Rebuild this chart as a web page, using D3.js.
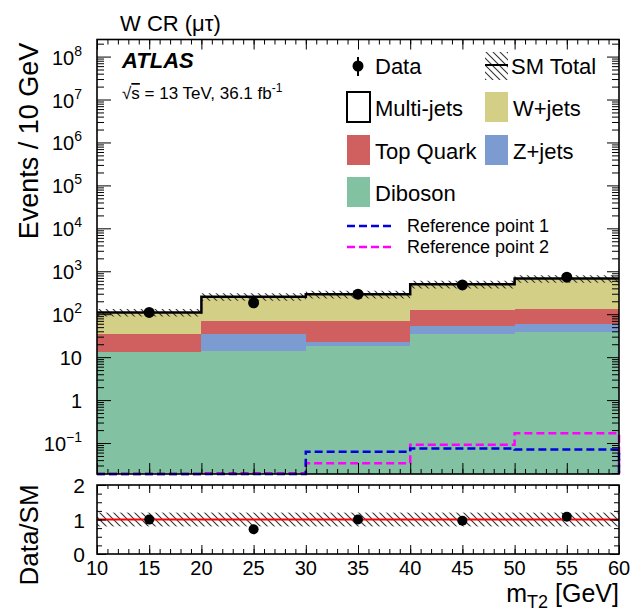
<!DOCTYPE html>
<html lang="en">
<head>
<meta charset="utf-8">
<title>W CR mT2</title>
<script src="https://cdn.jsdelivr.net/npm/d3@7"></script>
<style>
  body { margin: 0; background: #fff; }
  text { font-family: "Liberation Sans", Arial, Helvetica, sans-serif; fill: #000; }
  .axis path.domain { display: none; }
  .axis line { stroke: #000; stroke-width: 1; }
</style>
</head>
<body>
<script>

// ---- data ----
var binEdges = [10, 20, 30, 40, 50, 60];
var binCenters = [15, 25, 35, 45, 55];
var diboson = [13.1, 13.8, 18, 34, 38];
var zjets = [0.4, 21, 4, 18, 20];
var topQuark = [21.5, 34, 46, 72, 77];
var wjets = [75, 187, 223, 374, 540];
var multijets = [0.3, 0.5, 0.5, 1, 1];
var dataCounts = [110, 184, 292, 480, 730];
var sysUnc = [0.2, 0.2, 0.2, 0.2, 0.2];
var refPoint1 = [0.001, 0.001, 0.063, 0.075, 0.071];
var refPoint2 = [0.001, 0.0197, 0.034, 0.091, 0.168];
var yPowers = [-1, 0, 1, 2, 3, 4, 5, 6, 7, 8];
var ratioLabels = [0, 1, 2];
var xLabels = [10, 15, 20, 25, 30, 35, 40, 45, 50, 55, 60];

var w = 635, h = 613;
var svg = d3.select("body").append("svg").attr("width", w).attr("height", h);

var defs = svg.append("defs");
defs.append("pattern")
  .attr("id", "hatch")
  .attr("patternUnits", "userSpaceOnUse")
  .attr("width", 7).attr("height", 7)
  .append("path")
  .attr("d", "M-1,6 l2,2 M0,0 l7,7 M6,-1 l2,2")
  .attr("stroke", "#333").attr("stroke-width", 1.1);

var xScale = d3.scaleLinear().domain([10, 60]).range([97, 619]);
var yScale = d3.scaleLog().domain([0.019, 2.5e8]).range([474, 39.5]).clamp(true);
var rScale = d3.scaleLinear().domain([0, 2]).range([554, 485]).clamp(true);

// stack
var rows = binCenters.map(function(c, i) {
  return { i: i, Diboson: diboson[i], Zjets: zjets[i], Top: topQuark[i], Wjets: wjets[i], Multi: multijets[i] };
});
var keys = ["Diboson", "Zjets", "Top", "Wjets", "Multi"];
var colors = { Diboson: "#83c1a3", Zjets: "#7c9bd1", Top: "#d05f5f", Wjets: "#d4cf87", Multi: "#ffffff" };
var stacked = d3.stack().keys(keys)(rows);
var total = rows.map(function(r) { return keys.reduce(function(s, k) { return s + r[k]; }, 0); });

var main = svg.append("g");
stacked.forEach(function(layer) {
  main.append("g").selectAll("rect")
    .data(layer)
    .enter().append("rect")
    .attr("x", function(d, i) { return xScale(binEdges[i]); })
    .attr("width", function(d, i) { return xScale(binEdges[i + 1]) - xScale(binEdges[i]); })
    .attr("y", function(d) { return yScale(d[1]); })
    .attr("height", function(d) { return yScale(d[0]) - yScale(d[1]); })
    .attr("fill", colors[layer.key])
    .attr("shape-rendering", "crispEdges");
});

// step helpers
function stepPoints(vals, dropEnd) {
  var pts = binEdges.map(function(e, i) { return [e, vals[Math.min(i, vals.length - 1)]]; });
  if (dropEnd) pts.push([60, 1e-6]);
  return pts;
}
var stepLine = d3.line()
  .x(function(d) { return xScale(d[0]); })
  .y(function(d) { return yScale(d[1]); })
  .curve(d3.curveStepAfter);

// reference points
main.append("path").datum(stepPoints(refPoint2, true))
  .attr("d", stepLine).attr("fill", "none")
  .attr("stroke", "#ff00ff").attr("stroke-width", 2.5).attr("stroke-dasharray", "8,4");
main.append("path").datum(stepPoints(refPoint1, true))
  .attr("d", stepLine).attr("fill", "none")
  .attr("stroke", "#0000e0").attr("stroke-width", 2.5).attr("stroke-dasharray", "8,4");

// SM total band and line
var band = d3.area()
  .x(function(d) { return xScale(d[0]); })
  .y0(function(d) { return yScale(d[1] * (1 - d[2])); })
  .y1(function(d) { return yScale(d[1] * (1 + d[2])); })
  .curve(d3.curveStepAfter);
var bandPts = binEdges.map(function(e, i) { var j = Math.min(i, 4); return [e, total[j], sysUnc[j]]; });
main.append("path").datum(bandPts).attr("d", band).attr("fill", "url(#hatch)");
main.append("path").datum(stepPoints(total, false))
  .attr("d", stepLine).attr("fill", "none").attr("stroke", "#000").attr("stroke-width", 2.5);

// data
main.selectAll(".err").data(dataCounts).enter().append("line")
  .attr("x1", function(d, i) { return xScale(binCenters[i]); })
  .attr("x2", function(d, i) { return xScale(binCenters[i]); })
  .attr("y1", function(d) { return yScale(d + Math.sqrt(d)); })
  .attr("y2", function(d) { return yScale(d - Math.sqrt(d)); })
  .attr("stroke", "#000").attr("stroke-width", 2);
main.selectAll(".pt").data(dataCounts).enter().append("circle")
  .attr("cx", function(d, i) { return xScale(binCenters[i]); })
  .attr("cy", function(d) { return yScale(d); })
  .attr("r", 5.5).attr("fill", "#000");

// ---- ratio panel ----
var ratio = svg.append("g");
ratio.append("rect")
  .attr("x", xScale(10)).attr("width", xScale(60) - xScale(10))
  .attr("y", rScale(1 + sysUnc[0])).attr("height", rScale(1 - sysUnc[0]) - rScale(1 + sysUnc[0]))
  .attr("fill", "url(#hatch)");
ratio.append("line")
  .attr("x1", xScale(10)).attr("x2", xScale(60))
  .attr("y1", rScale(1)).attr("y2", rScale(1))
  .attr("stroke", "#ff0000").attr("stroke-width", 2);
ratio.selectAll(".rerr").data(dataCounts).enter().append("line")
  .attr("x1", function(d, i) { return xScale(binCenters[i]); })
  .attr("x2", function(d, i) { return xScale(binCenters[i]); })
  .attr("y1", function(d, i) { return rScale((d + Math.sqrt(d)) / total[i]); })
  .attr("y2", function(d, i) { return rScale((d - Math.sqrt(d)) / total[i]); })
  .attr("stroke", "#000").attr("stroke-width", 2);
ratio.selectAll(".rpt").data(dataCounts).enter().append("circle")
  .attr("cx", function(d, i) { return xScale(binCenters[i]); })
  .attr("cy", function(d, i) { return rScale(d / total[i]); })
  .attr("r", 5).attr("fill", "#000");

// ---- axes (ROOT style inward ticks) ----
var xMajor = d3.range(10, 60.01, 5);
var xMinor = d3.range(10, 60.01, 1);
var logMinor = [];
for (var k = -2; k <= 8; k++) {
  for (var m = 2; m <= 9; m++) {
    var v = m * Math.pow(10, k);
    if (v >= 0.019 && v <= 2.5e8) logMinor.push(v);
  }
}
var logMajor = yPowers.map(function(p) { return Math.pow(10, p); });

function addAxis(axis, tx, ty) {
  svg.append("g").attr("class", "axis")
    .attr("transform", "translate(" + tx + "," + ty + ")")
    .call(axis)
    .selectAll("text").remove();
}
// main panel
addAxis(d3.axisBottom(xScale).tickValues(xMinor).tickSize(-5), 0, 474);
addAxis(d3.axisBottom(xScale).tickValues(xMajor).tickSize(-11), 0, 474);
addAxis(d3.axisTop(xScale).tickValues(xMinor).tickSize(-5), 0, 39.5);
addAxis(d3.axisTop(xScale).tickValues(xMajor).tickSize(-10), 0, 39.5);
addAxis(d3.axisLeft(yScale).tickValues(logMinor).tickSize(-7), 97, 0);
addAxis(d3.axisLeft(yScale).tickValues(logMajor).tickSize(-14), 97, 0);
addAxis(d3.axisRight(yScale).tickValues(logMinor).tickSize(-7), 619, 0);
addAxis(d3.axisRight(yScale).tickValues(logMajor).tickSize(-12), 619, 0);
// ratio panel
addAxis(d3.axisBottom(xScale).tickValues(xMinor).tickSize(-5), 0, 554);
addAxis(d3.axisBottom(xScale).tickValues(xMajor).tickSize(-9), 0, 554);
addAxis(d3.axisTop(xScale).tickValues(xMinor).tickSize(-4), 0, 485);
addAxis(d3.axisTop(xScale).tickValues(xMajor).tickSize(-8), 0, 485);
addAxis(d3.axisLeft(rScale).tickValues(d3.range(0, 2.01, 0.25)).tickSize(-5), 97, 0);
addAxis(d3.axisLeft(rScale).tickValues(ratioLabels).tickSize(-9), 97, 0);
addAxis(d3.axisRight(rScale).tickValues(d3.range(0, 2.01, 0.25)).tickSize(-5), 619, 0);
addAxis(d3.axisRight(rScale).tickValues(ratioLabels).tickSize(-9), 619, 0);

// frames
svg.append("rect").attr("x", 97).attr("y", 39.5).attr("width", 522).attr("height", 434.5)
  .attr("fill", "none").attr("stroke", "#000").attr("stroke-width", 1.6);
svg.append("rect").attr("x", 97).attr("y", 485).attr("width", 522).attr("height", 69)
  .attr("fill", "none").attr("stroke", "#000").attr("stroke-width", 1.6);

// tick labels
var yl = svg.append("g").attr("font-size", 20).attr("text-anchor", "end");
yPowers.forEach(function(p) {
  var t = yl.append("text").attr("x", 82).attr("y", yScale(Math.pow(10, p)) + 8);
  if (p === 0) t.text("1");
  else if (p === 1) t.text("10");
  else {
    t.append("tspan").text("10");
    t.append("tspan").attr("font-size", 14).attr("dy", -9).text(p < 0 ? "\u2212" + (-p) : p);
  }
});
svg.append("g").attr("font-size", 21).attr("text-anchor", "end")
  .selectAll("text").data(ratioLabels).enter().append("text")
  .attr("x", 85).attr("y", function(d) { return rScale(d) + 8; })
  .text(function(d) { return d; });
svg.append("g").attr("font-size", 20).attr("text-anchor", "middle")
  .selectAll("text").data(xLabels).enter().append("text")
  .attr("x", function(d) { return xScale(d); }).attr("y", 575)
  .text(function(d) { return d; });

// axis titles
svg.append("text").attr("transform", "translate(38,141) rotate(-90)")
  .attr("text-anchor", "middle").attr("font-size", 27).text("Events / 10 GeV");
svg.append("text").attr("transform", "translate(38,535) rotate(-90)")
  .attr("text-anchor", "middle").attr("font-size", 26).text("Data/SM");
var xt = svg.append("text").attr("x", 619).attr("y", 602).attr("text-anchor", "end").attr("font-size", 25);
xt.append("tspan").text("m");
xt.append("tspan").attr("font-size", 18).attr("dy", 6).text("T2");
xt.append("tspan").attr("dy", -6).text(" [GeV]");

// labels
svg.append("text").attr("x", 120).attr("y", 31).attr("font-size", 22).text("W CR (\u03bc\u03c4)");
svg.append("text").attr("x", 122).attr("y", 68).attr("font-size", 22)
  .attr("font-weight", "bold").attr("font-style", "italic").text("ATLAS");
var lumi = svg.append("text").attr("x", 122).attr("y", 99).attr("font-size", 17);
lumi.append("tspan").text("\u221A");
lumi.append("tspan").attr("text-decoration", "overline").text("s");
lumi.append("tspan").text(" = 13 TeV, 36.1 fb");
lumi.append("tspan").attr("font-size", 12).attr("dy", -7).text("-1");

// legend
var lg = svg.append("g").attr("font-size", 22);
lg.append("line").attr("x1", 358).attr("x2", 358).attr("y1", 57).attr("y2", 76).attr("stroke", "#000").attr("stroke-width", 2);
lg.append("circle").attr("cx", 358).attr("cy", 66).attr("r", 5.5).attr("fill", "#000");
lg.append("text").attr("x", 375).attr("y", 74).text("Data");
lg.append("rect").attr("x", 485).attr("y", 52).attr("width", 23).attr("height", 28).attr("fill", "url(#hatch)");
lg.append("line").attr("x1", 485).attr("x2", 508).attr("y1", 65).attr("y2", 65).attr("stroke", "#000").attr("stroke-width", 2);
lg.append("text").attr("x", 511).attr("y", 74).text("SM Total");

var boxes = [
  { key: "Multi", label: "Multi-jets", x: 347, y: 92 },
  { key: "Wjets", label: "W+jets", x: 485, y: 92 },
  { key: "Top", label: "Top Quark", x: 347, y: 135 },
  { key: "Zjets", label: "Z+jets", x: 485, y: 135 },
  { key: "Diboson", label: "Diboson", x: 347, y: 177 }
];
boxes.forEach(function(b) {
  lg.append("rect").attr("x", b.x).attr("y", b.y).attr("width", 23).attr("height", 30)
    .attr("fill", colors[b.key])
    .attr("stroke", b.key === "Multi" ? "#000" : "none").attr("stroke-width", 2);
  lg.append("text").attr("x", b.x + 28).attr("y", b.y + 24).text(b.label);
});
[["#0000e0", "Reference point 1", 226], ["#ff00ff", "Reference point 2", 247]].forEach(function(r) {
  lg.append("line").attr("x1", 347).attr("x2", 392).attr("y1", r[2]).attr("y2", r[2])
    .attr("stroke", r[0]).attr("stroke-width", 2.5).attr("stroke-dasharray", "8,4");
  lg.append("text").attr("x", 407).attr("y", r[2] + 6).attr("font-size", 18).text(r[1]);
});

</script>
</body>
</html>
